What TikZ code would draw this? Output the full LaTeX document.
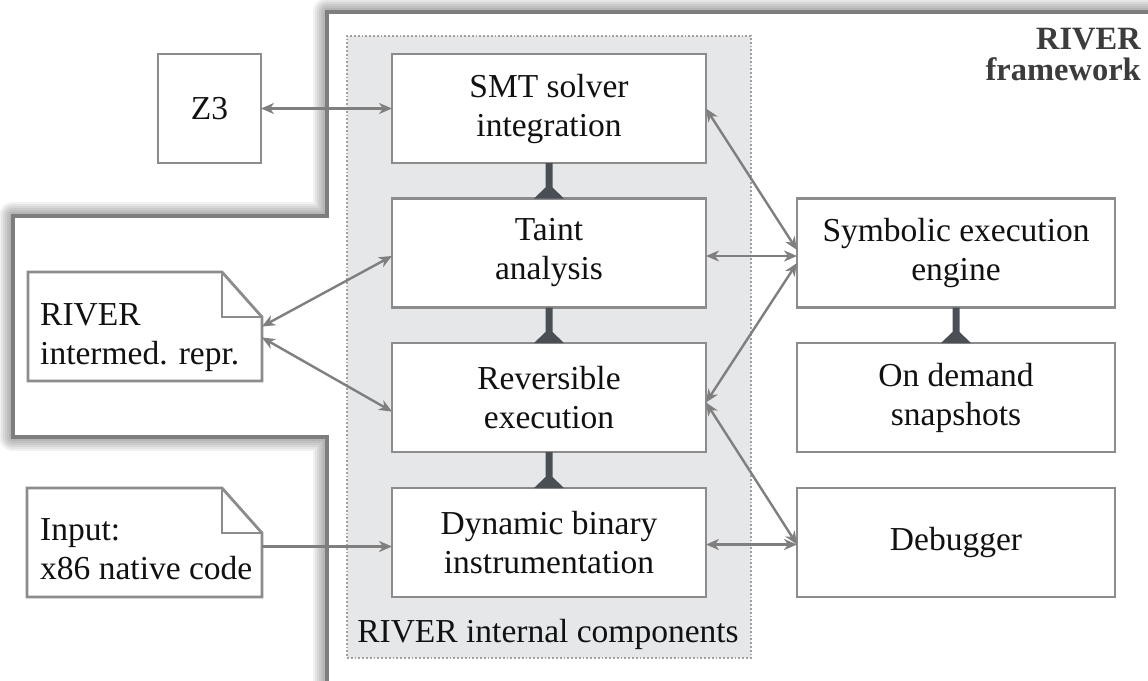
\documentclass[tikz,border=0pt]{standalone}
\usepackage{fontspec}
\setmainfont{Liberation Serif}
\usetikzlibrary{arrows.meta}
\definecolor{boxgray}{HTML}{8C8C8C}
\definecolor{framegray}{HTML}{7E7E7E}
\definecolor{arrgray}{HTML}{7F7F7F}
\definecolor{regionfill}{HTML}{E6E7E9}
\definecolor{regiondot}{HTML}{A0A0A0}
\definecolor{tdark}{HTML}{4A4F56}
\definecolor{headgray}{HTML}{3C3C3C}
\definecolor{txt}{HTML}{111111}
\newcommand{\tconnect}[2]{%
  \fill[tdark] ([xshift=-3.5pt]#1.south) -- ([xshift=-3.5pt,yshift=11pt]#2.north)
    -- ([xshift=-15pt]#2.north) -- ([xshift=15pt]#2.north)
    -- ([xshift=3.5pt,yshift=11pt]#2.north) -- ([xshift=3.5pt]#1.south) -- cycle;}
\newcommand{\fwpath}{(1220,12) -- (327,12) -- (327,216) -- (13,216) -- (13,437) -- (327,437) -- (327,740) -- (1220,740) -- cycle}
\begin{document}
\begin{tikzpicture}[x=1pt,y=-1pt,
  every node/.style={font=\fontsize{33.5}{39}\selectfont, text=txt},
  box/.style={draw=boxgray, line width=2.8pt, fill=white, align=center, inner sep=0pt, outer sep=0pt, minimum height=109pt},
  notebox/.style={draw=none, inner sep=0pt, outer sep=0pt, minimum height=109pt},
  noteline/.style={draw=boxgray, line width=2.8pt, fill=white, line join=miter},
  arr/.style={draw=arrgray, line width=2.4pt, {Stealth[length=13pt,width=11pt,inset=4pt]}-{Stealth[length=13pt,width=11pt,inset=4pt]}},
  arrone/.style={draw=arrgray, line width=2.4pt, -{Stealth[length=13pt,width=11pt,inset=4pt]}},
  region/.style={draw=regiondot, line width=1.8pt, dotted, fill=regionfill, inner sep=0pt, outer sep=0pt},
  glow/.style={draw=black, line join=round, draw opacity=0.055}
]
\useasboundingbox (0,0) rectangle (1148,680);
\clip (0,0) rectangle (1148,680);
% framework outline with glow
\foreach \w in {28,24,20,16,12,8} {\path[glow, line width=\w pt] \fwpath;}
\path[fill=white] \fwpath;
\draw[framegray, line width=4pt, line join=miter]
  (1220,12) -- (327,12) -- (327,216) -- (13,216) -- (13,437) -- (327,437) -- (327,740);
\node[anchor=north east, align=right, font=\fontsize{32.5}{31}\selectfont\bfseries, text=headgray, inner sep=0pt] (fwlabel) at (1141,28.5) {RIVER\\framework};

% internal components region
\node[region, minimum width=404pt, minimum height=622pt] (internal) at (549,347) {};
\node[anchor=base, inner sep=0pt] (intlabel) at (548,642) {RIVER internal components};

% internal boxes
\node[box, minimum width=314pt] (smt) at (549,108.5) {SMT solver\\integration};
\node[box, minimum width=314pt] (taint) at (549,253) {Taint\\analysis};
\node[box, minimum width=314pt] (rev) at (549,397.5) {Reversible\\execution};
\node[box, minimum width=314pt] (dbi) at (549,542.5) {Dynamic binary\\instrumentation};

% right boxes
\node[box, minimum width=318pt] (sym) at (956,253) {Symbolic execution\\engine};
\node[box, minimum width=318pt] (snap) at (956,397.5) {On demand\\snapshots};
\node[box, minimum width=318pt] (dbg) at (956,542.5) {Debugger};

% Z3
\node[box, minimum width=103pt] (z3) at (209.5,108.5) {Z3};

% notes
\node[notebox, minimum width=234pt] (ir) at (145,326.5) {};
\path[noteline] (ir.north west) -- ([xshift=-40pt]ir.north east) -- ([yshift=-45pt]ir.north east)
  -- (ir.south east) -- (ir.south west) -- cycle;
\draw[boxgray, line width=2.8pt] ([xshift=-40pt]ir.north east) |- ([yshift=-45pt]ir.north east);
\node[anchor=north west, align=left, inner sep=0pt] (irtext) at (40,303.5) {RIVER\\intermed. repr.};

\node[notebox, minimum width=235pt] (inp) at (144.5,542.5) {};
\path[noteline] (inp.north west) -- ([xshift=-40pt]inp.north east) -- ([yshift=-45pt]inp.north east)
  -- (inp.south east) -- (inp.south west) -- cycle;
\draw[boxgray, line width=2.8pt] ([xshift=-40pt]inp.north east) |- ([yshift=-45pt]inp.north east);
\node[anchor=north west, align=left, inner sep=0pt] (inptext) at (40,518.5) {Input:\\x86 native code};

% stacked connectors
\tconnect{smt}{taint}
\tconnect{taint}{rev}
\tconnect{rev}{dbi}
\tconnect{sym}{snap}

% arrows
\path[arr] (z3.east) -- (smt.west);
\path[arr] (smt.east) -- ([yshift=3pt]sym.west);
\path[arr] ([yshift=-3pt]taint.east) -- ([yshift=-3pt]sym.west);
\path[arr] ([yshift=-5pt]rev.east) -- ([yshift=-10pt]sym.west);
\path[arr] ([yshift=-5pt]rev.east) -- ([yshift=-2pt]dbg.west);
\path[arr] ([yshift=-2pt]dbi.east) -- ([yshift=-2pt]dbg.west);
\path[arr] (ir.east) -- ([yshift=-3pt]taint.west);
\path[arr] ([yshift=-11pt]ir.east) -- ([yshift=-14pt]rev.west);
\path[arrone] ([yshift=-4pt]inp.east) -- ([yshift=-4pt]dbi.west);
\end{tikzpicture}
\end{document}
